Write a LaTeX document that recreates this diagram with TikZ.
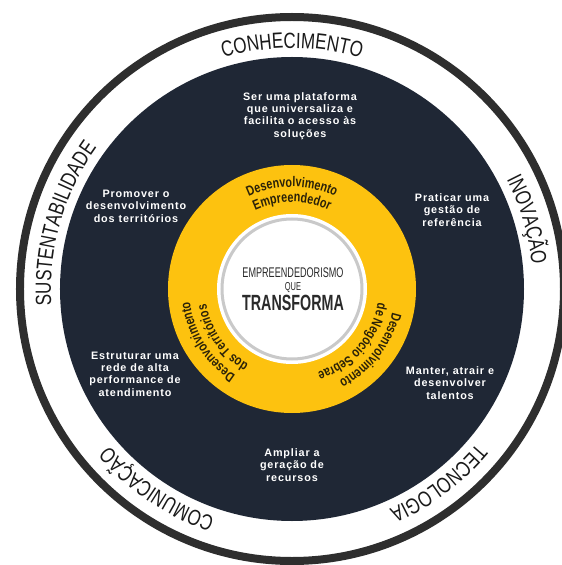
\documentclass[tikz,border=0pt]{standalone}
\usepackage{fontspec}
\setmainfont{Liberation Sans}
\newfontfamily\ringfont[FakeStretch=0.77]{Liberation Sans}
\newfontfamily\ylwfont[FakeStretch=0.77]{Liberation Sans}
\newfontfamily\goalfont[LetterSpace=8]{Liberation Sans}
\newfontfamily\centerfont[FakeStretch=0.65]{Liberation Sans}
\usetikzlibrary{decorations.text}
\definecolor{navy}{HTML}{1F2735}
\definecolor{ringline}{HTML}{2E2E2E}
\definecolor{ringtext}{HTML}{1A1A1A}
\definecolor{ylw}{HTML}{FDC20F}
\definecolor{ylwmid}{HTML}{F2B000}
\definecolor{ylwdark}{HTML}{D99200}
\definecolor{ylwtext}{HTML}{2B2208}
\definecolor{centertext}{HTML}{2A2A2A}
\definecolor{grayring}{HTML}{C9C9C9}
\pgfdeclareradialshading{yring}{\pgfpointorigin}{color(0bp)=(ylw); color(43bp)=(ylw); color(47bp)=(ylwmid); color(50bp)=(ylwdark)}
\tikzset{
  goal/.style={text=white, font=\goalfont\bfseries\fontsize{10.8}{12.4}\selectfont, align=center},
  ringtxt/.style={decorate, decoration={text along path, text align=center, text={|\ringfont\fontsize{22}{22}\selectfont\color{ringtext}|#1}}},
  ylwtxt/.style={decorate, decoration={text along path, text align=center, text={|\ylwfont\bfseries\fontsize{14}{14}\selectfont\color{ylwtext}|#1}}},
  ctr/.style={text=centertext, inner sep=0pt}
}
\begin{document}
\begin{tikzpicture}[x=1pt,y=1pt]
\useasboundingbox (-292,-276) rectangle (270,289);
\fill[white] (-292,-276) rectangle (270,289);
\coordinate (O) at (0,0);
% rings
\draw[ringline, line width=8pt] (O) circle[radius=272pt];
\fill[navy] (O) circle[radius=232pt];
\shade[shading=yring] (O) circle[radius=124pt];
\fill[white] (O) circle[radius=75pt];
\draw[grayring, line width=3pt] (O) circle[radius=70pt];
% outer ring texts
\path[ringtxt=CONHECIMENTO] (O) ++(135:241pt) arc[start angle=135, end angle=45, radius=241pt];
\path[ringtxt=INOVAÇÃO] (O) ++(60:241pt) arc[start angle=60, end angle=-27, radius=241pt];
\path[ringtxt=TECNOLOGIA] (O) ++(-8:241pt) arc[start angle=-8, end angle=-98, radius=241pt];
\path[ringtxt=COMUNICAÇÃO] (O) ++(281:241pt) arc[start angle=281, end angle=191, radius=241pt];
\path[ringtxt=SUSTENTABILIDADE] (O) ++(212:241pt) arc[start angle=212, end angle=116, radius=241pt];
% yellow ring texts
\path[ylwtxt=Desenvolvimento] (O) ++(150:102pt) arc[start angle=150, end angle=30, radius=102pt];
\path[ylwtxt=Empreendedor] (O) ++(150:87pt) arc[start angle=150, end angle=30, radius=87pt];
\path[ylwtxt=Desenvolvimento] (O) ++(22:103pt) arc[start angle=22, end angle=-98, radius=103pt];
\path[ylwtxt=de Negócio Sebrae] (O) ++(19:87pt) arc[start angle=19, end angle=-101, radius=87pt];
\path[ylwtxt=Desenvolvimento] (O) ++(272:103pt) arc[start angle=272, end angle=152, radius=103pt];
\path[ylwtxt=dos Territórios] (O) ++(275:87pt) arc[start angle=275, end angle=155, radius=87pt];
% center
\node[ctr, font=\centerfont\fontsize{14}{14}\selectfont] (c1) at (1,16) {EMPREENDEDORISMO};
\node[ctr, font=\centerfont\fontsize{11.5}{11.5}\selectfont] (c2) at (1,1) {QUE};
\node[ctr, font=\centerfont\bfseries\fontsize{22}{22}\selectfont] (c3) at (1,-14) {TRANSFORMA};
% goals
\node[goal] (g1) at (8,173) {Ser uma plataforma\\que universaliza e\\facilita o acesso às\\soluções};
\node[goal] (g2) at (-156,83) {Promover o\\desenvolvimento\\dos territórios};
\node[goal] (g3) at (160,79) {Praticar uma\\gestão de\\referência};
\node[goal] (g4) at (-157,-85) {Estruturar uma\\rede de alta\\performance de\\atendimento};
\node[goal] (g5) at (158,-94) {Manter, atrair e\\desenvolver\\talentos};
\node[goal] (g6) at (0,-176) {Ampliar a\\geração de\\recursos};
\end{tikzpicture}
\end{document}
